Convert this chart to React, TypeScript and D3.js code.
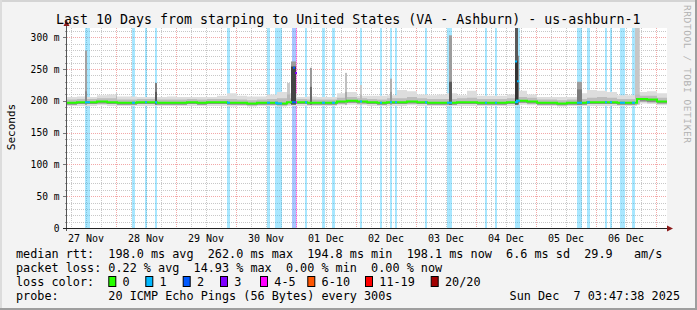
import React from 'react';
import * as d3 from 'd3';

const W = 697;
const H = 310;
const START = new Date(2025, 10, 27, 4, 24);
const END = new Date(2025, 11, 7, 4, 24);
const BASE = new Date(2025, 10, 27, 0, 0);

// 4-hour buckets starting at START (ms)
const medianMs = [
  197, 198, 198, 199, 198, 197, 197, 198, 198, 197,
  197, 197, 198, 197, 198, 198, 197, 197, 196, 197,
  197, 196, 198, 198, 197, 197, 197, 199, 200, 199,
  198, 197, 198, 198, 199, 198, 197, 197, 197, 198,
  198, 197, 197, 197, 198, 200, 199, 197, 197, 196,
  197, 197, 198, 198, 198, 197, 197, 203, 202, 199,
];
const smokeLo = [
  192, 192, 192, 193, 192, 192, 192, 192, 192, 192,
  192, 192, 192, 192, 192, 192, 191, 192, 191, 192,
  192, 191, 192, 192, 192, 192, 192, 193, 194, 193,
  192, 192, 192, 192, 193, 192, 192, 192, 192, 192,
  192, 192, 192, 192, 192, 194, 193, 192, 192, 191,
  192, 192, 192, 192, 192, 192, 192, 196, 195, 193,
];
const smokeQ1 = [
  194, 195, 195, 196, 195, 194, 194, 195, 195, 194,
  194, 194, 195, 194, 195, 195, 194, 194, 193, 194,
  194, 193, 195, 195, 194, 194, 194, 196, 197, 196,
  195, 194, 195, 195, 196, 195, 194, 194, 194, 195,
  195, 194, 194, 194, 195, 197, 196, 194, 194, 193,
  194, 194, 195, 195, 195, 194, 194, 199, 198, 196,
];
const smokeQ3 = [
  202, 203, 203, 204, 204, 202, 202, 203, 203, 202,
  202, 202, 203, 202, 203, 203, 203, 202, 201, 202,
  203, 204, 204, 203, 202, 202, 202, 205, 206, 204,
  203, 202, 204, 204, 206, 204, 203, 203, 203, 204,
  205, 203, 203, 203, 204, 206, 205, 202, 202, 201,
  202, 203, 205, 206, 205, 203, 203, 208, 208, 205,
];
const smokeHi = [
  206, 207, 206, 209, 210, 207, 207, 206, 206, 206,
  207, 206, 206, 206, 206, 208, 212, 208, 207, 207,
  210, 214, 212, 206, 207, 206, 206, 212, 214, 208,
  208, 208, 209, 217, 215, 210, 209, 210, 212, 209,
  216, 208, 208, 208, 210, 216, 210, 206, 206, 206,
  206, 212, 217, 216, 214, 209, 209, 214, 215, 212,
];

// loss periods, hours since 27 Nov 00:00
const lossStart = [11.6, 30.4, 35.6, 39.6, 68.4, 84.4, 87.6, 94.4, 96.0, 99.6, 106.4, 110.4, 121.6, 129.6, 133.6, 135.6, 147.6, 156.4, 171.6, 175.6, 183.6, 208.4, 212.4, 219.6, 221.6, 225.6, 230.4];
const lossEnd = [13.6, 31.6, 36.4, 40.4, 69.6, 85.6, 90.4, 96.0, 96.4, 100.4, 107.6, 111.6, 122.4, 130.4, 134.4, 136.4, 148.4, 158.4, 172.4, 176.4, 185.6, 210.4, 213.6, 220.4, 222.4, 227.6, 231.6];
const lossCount = [1, 1, 1, 1, 1, 1, 1, 2, 4, 1, 1, 1, 1, 1, 1, 1, 1, 1, 1, 1, 1, 1, 1, 1, 1, 1, 1];

// smoke outliers (spikes), hours since 27 Nov 00:00
const spikeHour = [11.6, 24.0, 39.6, 92.4, 94.0, 101.6, 115.6, 121.6, 133.6, 157.2, 183.6, 184.8, 208.4, 231.6];
const spikeWidth = [0.8, 0.4, 0.8, 1.2, 2.0, 0.8, 0.8, 0.8, 0.8, 1.2, 1.2, 0.4, 2.0, 1.9];
const spikeTop = [279, 214, 228, 228, 262, 252, 244, 225, 235, 303, 315, 271, 230, 315];
const spikeMid = [215, 208, 214, 210, 254, 222, 214, 210, 214, 230, 262, 230, 218, 210];
const spikeShade = ['#a2a2a2', '#cccccc', '#7c7c7c', '#c8c8c8', '#9a9a9a', '#9a9a9a', '#c0c0c0', '#c8c8c8', '#b0b0b0', '#9c9c9c', '#5a5a5a', '#8c8c8c', '#9c9c9c', '#c6c6c6'];
const spikeCore = ['#8a8a8a', '#bbbbbb', '#5a5a5a', '#b8b8b8', '#444444', '#6a6a6a', '#aaaaaa', '#b8b8b8', '#999999', '#5a5a5a', '#333333', '#777777', '#7a7a7a', '#bcbcbc'];

// median excursions
const peakHour = [94.8, 95.6, 183.6, 184.4];
const peakValue = [252, 244, 262, 231];
const peakLoss = [2, 3, 1, 1];

const yTicks = [0, 50, 100, 150, 200, 250, 300];
const lossColors = ['#26ff00', '#00b8ff', '#0059ff', '#7e00ff', '#ff00ff', '#ff5500', '#ff0000', '#a10000'];
const lossLabels = ['0', '1', '2', '3', '4-5', '6-10', '11-19', '20/20'];
const legendBoxX = [108.3, 145.3, 182.7, 220, 260, 307.3, 365, 430.7];

const legendRow1 = 'median rtt:  198.0 ms avg  262.0 ms max  194.8 ms min  198.1 ms now  6.6 ms sd  29.9   am/s';
const legendRow2 = 'packet loss: 0.22 % avg  14.93 % max  0.00 % min  0.00 % now';
const legendRow3 = 'loss color:';
const legendRow4 = 'probe:       20 ICMP Echo Pings (56 Bytes) every 300s';
const stamp = 'Sun Dec  7 03:47:38 2025';
const title = 'Last 10 Days from starping to United States (VA - Ashburn) - us-ashburn-1';

const MONO = "'DejaVu Sans Mono', monospace";

function lossIndex(n: number) {
  if (n <= 3) return n;
  if (n <= 5) return 4;
  if (n <= 10) return 5;
  if (n <= 19) return 6;
  return 7;
}

const hd = (h: number) => new Date(BASE.getTime() + h * 3600e3);

export default function App() {
  const x = d3.scaleTime().domain([START, END]).range([67, 667]);
  const y = d3.scaleLinear().domain([0, 314.6]).range([228, 28]);
  const L = 67, R = 667, T = 28, B = 228;

  const pts = medianMs.map((_, i) => new Date(START.getTime() + i * 4 * 3600e3)).concat([END]);
  const ext = (a: number[]) => a.concat([a[a.length - 1]]);
  const idx = pts.map((_, i) => i);
  const band = (lo: number[], hi: number[]) => {
    const l = ext(lo), h = ext(hi);
    return d3.area<number>()
      .x((i) => x(pts[i]))
      .y0((i) => y(l[i]))
      .y1((i) => y(h[i]))
      .curve(d3.curveStepAfter)(idx) || '';
  };
  const med = ext(medianMs);
  const medPath = d3.line<number>().x((i) => x(pts[i])).y((i) => y(med[i])).curve(d3.curveStepAfter)(idx) || '';

  const minorY = d3.range(10, 320, 10).filter((v) => v % 50 !== 0);
  const minorX = d3.timeHour.every(6)!.range(START, END).filter((d) => d.getHours() !== 0);
  const majorX = d3.timeDay.range(START, END);
  const labelDays = d3.timeDay.range(d3.timeDay.floor(START), END)
    .filter((d) => x(d3.timeHour.offset(d, 12)) < R);
  const fmt = d3.timeFormat('%d %b');

  return (
    <svg width={W} height={H} style={{ position: 'absolute', left: 0, top: 0 }} xmlns="http://www.w3.org/2000/svg">
      <defs>
        <clipPath id="plot"><rect x={L} y={T} width={R - L} height={B - T} /></clipPath>
        {lossStart.map((s, i) => (
          <clipPath id={`lc${i}`} key={i}>
            <rect x={x(hd(s))} y={T} width={x(hd(lossEnd[i])) - x(hd(s))} height={B - T} />
          </clipPath>
        ))}
      </defs>
      <rect x={0} y={0} width={W} height={H} fill="#f3f3f3" />
      <rect x={0} y={0} width={W} height={2} fill="#d4d4d4" />
      <rect x={0} y={0} width={2} height={H} fill="#dcdcdc" />
      <rect x={W - 2} y={0} width={2} height={H} fill="#9e9e9e" />
      <rect x={0} y={H - 2} width={W} height={2} fill="#9e9e9e" />
      <rect x={L} y={T} width={R - L} height={B - T} fill="#ffffff" />

      {/* grid */}
      {minorY.map((v) => (
        <line key={'my' + v} x1={L} x2={R} y1={Math.round(y(v)) + 0.5} y2={Math.round(y(v)) + 0.5} stroke="#c8c8c8" strokeDasharray="1,1" />
      ))}
      {minorX.map((d, i) => (
        <line key={'mx' + i} x1={Math.round(x(d)) + 0.5} x2={Math.round(x(d)) + 0.5} y1={T} y2={B} stroke="#c8c8c8" strokeDasharray="1,1" />
      ))}
      {yTicks.filter((v) => v > 0).map((v) => (
        <line key={'My' + v} x1={L} x2={R} y1={Math.round(y(v)) + 0.5} y2={Math.round(y(v)) + 0.5} stroke="#f3a8a8" strokeDasharray="1,1" />
      ))}
      {majorX.map((d, i) => (
        <line key={'Mx' + i} x1={Math.round(x(d)) + 0.5} x2={Math.round(x(d)) + 0.5} y1={T} y2={B} stroke="#f3a8a8" strokeDasharray="1,1" />
      ))}

      {/* loss stripes */}
      <g clipPath="url(#plot)">
        {lossStart.map((s, i) => (
          <rect key={'ls' + i} x={x(hd(s))} y={T} width={x(hd(lossEnd[i])) - x(hd(s))} height={B - T}
            fill={lossColors[lossIndex(lossCount[i])]} fillOpacity={0.34} />
        ))}
      </g>

      {/* smoke */}
      <g clipPath="url(#plot)">
        <path d={band(smokeLo, smokeHi)} fill="#dddddd" />
        <path d={band(smokeQ1, smokeQ3)} fill="#bcbcbc" />
        <path d={band(smokeQ1, medianMs)} fill="#8e8e8e" />
        {spikeHour.map((h, i) => {
          const x0 = x(hd(h));
          const w = x(hd(h + spikeWidth[i])) - x0;
          return (
            <g key={'sp' + i}>
              <rect x={x0} y={y(spikeTop[i])} width={w} height={y(200) - y(spikeTop[i])} fill={spikeShade[i]} />
              <rect x={x0} y={y(spikeMid[i])} width={w} height={y(194) - y(spikeMid[i])} fill={spikeCore[i]} />
            </g>
          );
        })}
        <path d={medPath} fill="none" stroke={lossColors[0]} strokeWidth={2} />
        {lossStart.map((s, i) => (
          <path key={'lm' + i} d={medPath} fill="none" stroke={lossColors[lossIndex(lossCount[i])]} strokeWidth={2} clipPath={`url(#lc${i})`} />
        ))}
        {peakHour.map((h, i) => (
          <line key={'pk' + i} x1={x(hd(h))} x2={x(hd(h + 0.8))} y1={y(peakValue[i])} y2={y(peakValue[i])}
            stroke={lossColors[lossIndex(peakLoss[i])]} strokeWidth={2} />
        ))}
      </g>

      {/* axes */}
      {minorY.map((v) => (
        <line key={'ty' + v} x1={65} x2={67} y1={Math.round(y(v)) + 0.5} y2={Math.round(y(v)) + 0.5} stroke="#9a9a9a" />
      ))}
      {yTicks.map((v) => (
        <line key={'Ty' + v} x1={63} x2={67} y1={Math.round(y(v)) + 0.5} y2={Math.round(y(v)) + 0.5} stroke="#777" />
      ))}
      <line x1={66.5} x2={66.5} y1={24} y2={231} stroke="#555" />
      <line x1={63} x2={669} y1={228.5} y2={228.5} stroke="#222" />
      <path d="M66.5,20 L63.5,26 L69.5,26 Z" fill="#8b1a1a" />
      <path d="M673,228.5 L667,225.5 L667,231.5 Z" fill="#8b1a1a" />

      {yTicks.map((v) => (
        <text key={'yl' + v} x={59.5} y={y(v) + 3.5} textAnchor="end" fontFamily={MONO} fontSize={9.6} fill="#000">
          {v === 0 ? '0' : `${v} m`}
        </text>
      ))}
      {labelDays.map((d, i) => (
        <text key={'xl' + i} x={x(d3.timeHour.offset(d, 12))} y={242} textAnchor="middle" fontFamily={MONO} fontSize={10} fill="#000">
          {fmt(d)}
        </text>
      ))}
      <text transform="translate(15,127) rotate(-90)" textAnchor="middle" fontFamily={MONO} fontSize={11} fill="#000">Seconds</text>

      <text x={56} y={24} fontFamily={MONO} fontSize={13.3} fill="#000" style={{ whiteSpace: 'pre' }}>{title}</text>
      <text transform="translate(684,5) rotate(90)" fontFamily={MONO} fontSize={9.5} fill="#b0b0b0" textLength={138} lengthAdjust="spacing">RRDTOOL / TOBI OETIKER</text>

      <g fontFamily={MONO} fontSize={11.8} fill="#000" style={{ whiteSpace: 'pre' }}>
        <text x={16} y={257.5} xmlSpace="preserve">{legendRow1}</text>
        <text x={16} y={271.7} xmlSpace="preserve">{legendRow2}</text>
        <text x={16} y={285.8} xmlSpace="preserve">{legendRow3}</text>
        {lossColors.map((c, i) => (
          <g key={'lg' + i}>
            <rect x={legendBoxX[i] + 0.5} y={276.5} width={7} height={10} fill={c} stroke="#000" />
            <text x={legendBoxX[i] + 14.3} y={285.8}>{lossLabels[i]}</text>
          </g>
        ))}
        <text x={16} y={300} xmlSpace="preserve">{legendRow4}</text>
        <text x={680} y={300} textAnchor="end" xmlSpace="preserve">{stamp}</text>
      </g>
    </svg>
  );
}
